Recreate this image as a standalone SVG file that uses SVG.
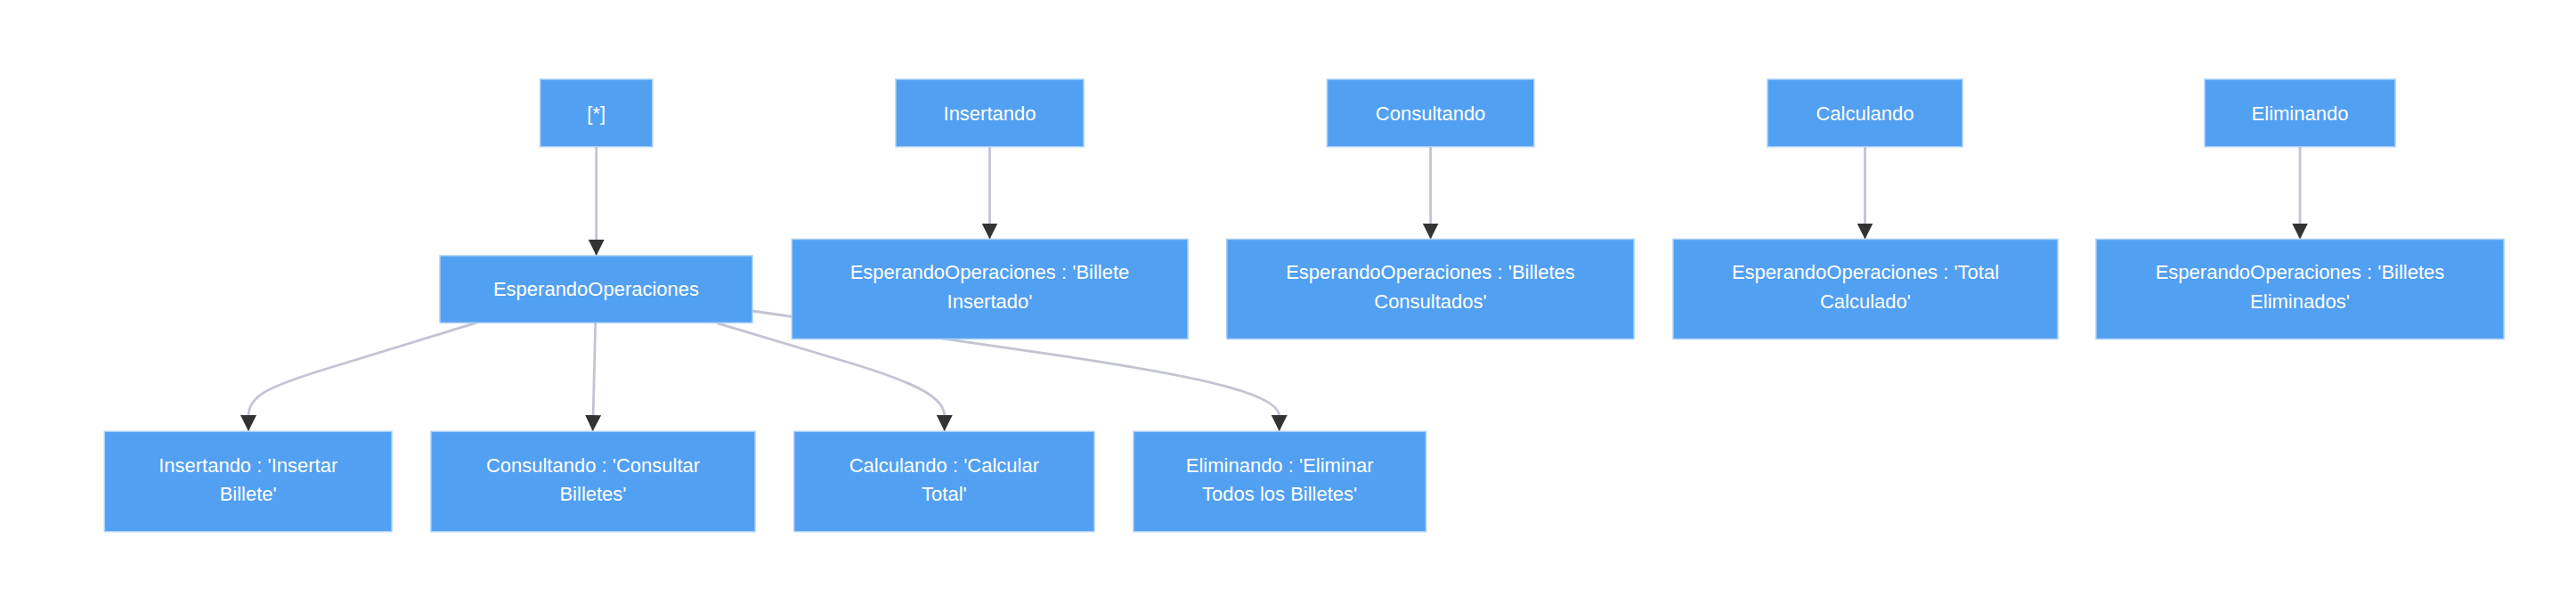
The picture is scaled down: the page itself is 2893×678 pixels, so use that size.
<svg xmlns="http://www.w3.org/2000/svg" width="2893" height="678" viewBox="0 0 2893 678">
<style>
.node rect{fill:#52a0f2;stroke:#a9cff7;stroke-width:1.5}
.node text{fill:#ffffff;font-family:"Liberation Sans",Arial,sans-serif;font-size:22px;text-anchor:middle}
.edge{fill:none;stroke:#c2c4d2;stroke-width:2.8;marker-end:url(#arrow)}
</style>
<defs>
<marker id="arrow" markerUnits="userSpaceOnUse" viewBox="0 0 18 18" refX="18" refY="9" markerWidth="18" markerHeight="18" orient="auto">
<path d="M0,0 L18,9 L0,18 z" fill="#333333"/>
</marker>
</defs>
<rect width="2893" height="678" fill="#ffffff"/>
<g id="connectors">
<path class="edge" d="M669.7,164.7 L669.7,287"/>
<path class="edge" d="M535,362.3 L360,416 C303,434 279,444 279,467 L279,484"/>
<path class="edge" d="M668.7,362.3 L665.7,484"/>
<path class="edge" d="M805,362.7 L960,409 C1035,432 1060.7,448 1060.7,467 L1060.7,484"/>
<path class="edge" d="M845,349 L1180,397.7 C1330,420 1436.7,440 1436.7,467 L1436.7,484"/>
<path class="edge" d="M1111.5,164.7 L1111.5,268.5"/>
<path class="edge" d="M1606.6,164.7 L1606.6,268.5"/>
<path class="edge" d="M2094.5,164.7 L2094.5,268.5"/>
<path class="edge" d="M2583,164.7 L2583,268.5"/>
</g>
<g id="start" class="node"><rect x="606.7" y="89" width="126" height="75.7"/><text x="669.7" y="134.5">[*]</text></g>
<g id="esperando" class="node"><rect x="494" y="287" width="351" height="75.3"/><text x="669.5" y="332">EsperandoOperaciones</text></g>
<g id="insertando" class="node"><rect x="1006" y="89" width="211" height="75.7"/><text x="1111.5" y="134.5">Insertando</text></g>
<g id="consultando" class="node"><rect x="1490.5" y="89" width="232.3" height="75.7"/><text x="1606.6" y="134.5">Consultando</text></g>
<g id="calculando" class="node"><rect x="1985" y="89" width="219" height="75.7"/><text x="2094.5" y="134.5">Calculando</text></g>
<g id="eliminando" class="node"><rect x="2476" y="89" width="214" height="75.7"/><text x="2583" y="134.5">Eliminando</text></g>
<g id="esp-insertado" class="node"><rect x="889.3" y="268.5" width="444.7" height="112"/><text x="1111.5" y="313.3">EsperandoOperaciones : 'Billete</text><text x="1111.5" y="346">Insertado'</text></g>
<g id="esp-consultados" class="node"><rect x="1377.7" y="268.5" width="457.3" height="112"/><text x="1606.5" y="313.3">EsperandoOperaciones : 'Billetes</text><text x="1606.5" y="346">Consultados'</text></g>
<g id="esp-calculado" class="node"><rect x="1879" y="268.5" width="432" height="112"/><text x="2095" y="313.3">EsperandoOperaciones : 'Total</text><text x="2095" y="346">Calculado'</text></g>
<g id="esp-eliminados" class="node"><rect x="2354" y="268.5" width="458" height="112"/><text x="2583" y="313.3">EsperandoOperaciones : 'Billetes</text><text x="2583" y="346">Eliminados'</text></g>
<g id="ins-billete" class="node"><rect x="117.3" y="484.3" width="322.7" height="112.4"/><text x="278.7" y="530">Insertando : 'Insertar</text><text x="278.7" y="562.3">Billete'</text></g>
<g id="cons-billetes" class="node"><rect x="484" y="484.3" width="364" height="112.4"/><text x="666" y="530">Consultando : 'Consultar</text><text x="666" y="562.3">Billetes'</text></g>
<g id="calc-total" class="node"><rect x="891.8" y="484.3" width="337.2" height="112.4"/><text x="1060.4" y="530">Calculando : 'Calcular</text><text x="1060.4" y="562.3">Total'</text></g>
<g id="elim-todos" class="node"><rect x="1273" y="484.3" width="328.5" height="112.4"/><text x="1437.2" y="530">Eliminando : 'Eliminar</text><text x="1437.2" y="562.3">Todos los Billetes'</text></g>
</svg>
